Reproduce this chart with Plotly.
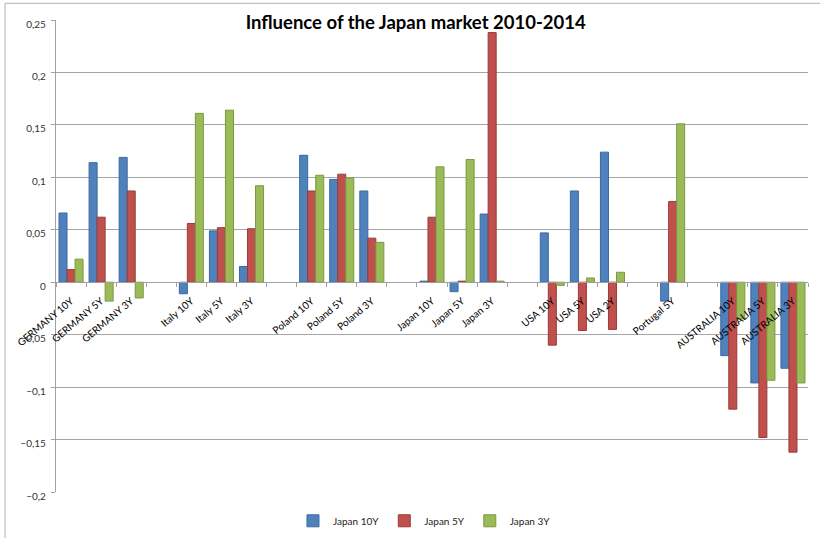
import plotly.graph_objects as go

categories = ["GERMANY 10Y", "GERMANY 5Y", "GERMANY 3Y", " ",
              "Italy 10Y", "Italy 5Y", "Italy 3Y", "  ",
              "Poland 10Y", "Poland 5Y", "Poland 3Y", "   ",
              "Japan 10Y", "Japan 5Y", "Japan 3Y", "    ",
              "USA 10Y", "USA 5Y", "USA 2Y", "     ",
              "Portugal 5Y", "      ",
              "AUSTRALIA 10Y", "AUSTRALIA 5Y", "AUSTRALIA 3Y"]

japan_10y = [0.066, 0.114, 0.119, None,
             -0.011, 0.049, 0.015, None,
             0.121, 0.098, 0.087, None,
             0.001, -0.009, 0.065, None,
             0.047, 0.087, 0.124, None,
             -0.018, None,
             -0.070, -0.096, -0.082]
japan_5y = [0.012, 0.062, 0.087, None,
            0.056, 0.052, 0.051, None,
            0.087, 0.103, 0.042, None,
            0.062, 0.001, 0.238, None,
            -0.060, -0.046, -0.045, None,
            0.077, None,
            -0.121, -0.148, -0.162]
japan_3y = [0.022, -0.018, -0.015, None,
            0.161, 0.164, 0.092, None,
            0.102, 0.0995, 0.038, None,
            0.110, 0.117, 0.001, None,
            -0.003, 0.004, 0.0095, None,
            0.151, None,
            -0.035, -0.0935, -0.096]

series = [("Japan 10Y", japan_10y, "#4F81BD", "#3A6A9F"),
          ("Japan 5Y", japan_5y, "#C0504D", "#9B3A38"),
          ("Japan 3Y", japan_3y, "#9BBB59", "#7A9A3E")]

y_min, y_max = -0.2, 0.25

fig = go.Figure()
for name, vals, col, edge in series:
    fig.add_trace(go.Bar(x=categories, y=vals, name=name,
                         marker=dict(color=col, line=dict(color=edge, width=1))))

W, H = 820, 547
ml, mr, mt, mb = 56, 12, 20, 46
plot_w = W - ml - mr
plot_h = H - mt - mb

fig.update_layout(
    width=W, height=H,
    margin=dict(l=ml, r=mr, t=mt, b=mb),
    paper_bgcolor="white", plot_bgcolor="white",
    separators=", ",
    font=dict(family="Lato, Open Sans, sans-serif", size=10, color="#222"),
    barmode="group", bargap=0.2, bargroupgap=0.0,
    title=dict(text="<b>Influence of the Japan market 2010-2014</b>",
               x=0.507, xref="container", xanchor="center",
               y=1 - 22.5 / H, yref="container", yanchor="middle",
               font=dict(size=18.5, color="#000", family="Lato, Open Sans, sans-serif")),
    legend=dict(orientation="h", x=0.49, xanchor="center", y=-0.061, yanchor="middle",
                font=dict(size=10, color="#222"), itemwidth=30, traceorder="normal"),
    showlegend=True,
    xaxis=dict(type="category", categoryorder="array", categoryarray=categories,
               anchor="free", position=(0 - y_min) / (y_max - y_min),
               showline=True, linecolor="#A0A0A0", linewidth=1.3,
               ticks="outside", tickson="boundaries", ticklen=4, tickcolor="#A0A0A0",
               tickangle=-40, tickfont=dict(size=10, color="#000"),
               ticklabelstandoff=8,
               showgrid=False, zeroline=False, automargin=False),
    yaxis=dict(range=[y_min, y_max], dtick=0.05, tick0=0, tickformat="~g",
               showgrid=True, gridcolor="#A6A6A6", gridwidth=1.3,
               showline=True, linecolor="#A0A0A0", linewidth=1.3,
               ticks="outside", ticklen=4, tickcolor="#A0A0A0",
               ticklabelshift=4, ticklabelstandoff=3,
               zeroline=False, tickfont=dict(size=10, color="#333"),
               automargin=False),
)

# outer chart border (top and left edges visible)
fig.add_shape(type="rect", xref="paper", yref="paper",
              x0=(5 - ml) / plot_w, x1=(W + 10 - ml) / plot_w,
              y0=-(H + 10 - (H - mb)) / plot_h, y1=1 + (mt - 3) / plot_h,
              line=dict(color="#B0B0B0", width=1), layer="below")

fig.write_html("out.html", config={"displayModeBar": False},
               post_script="document.body.style.margin='0';document.body.style.padding='0';")
